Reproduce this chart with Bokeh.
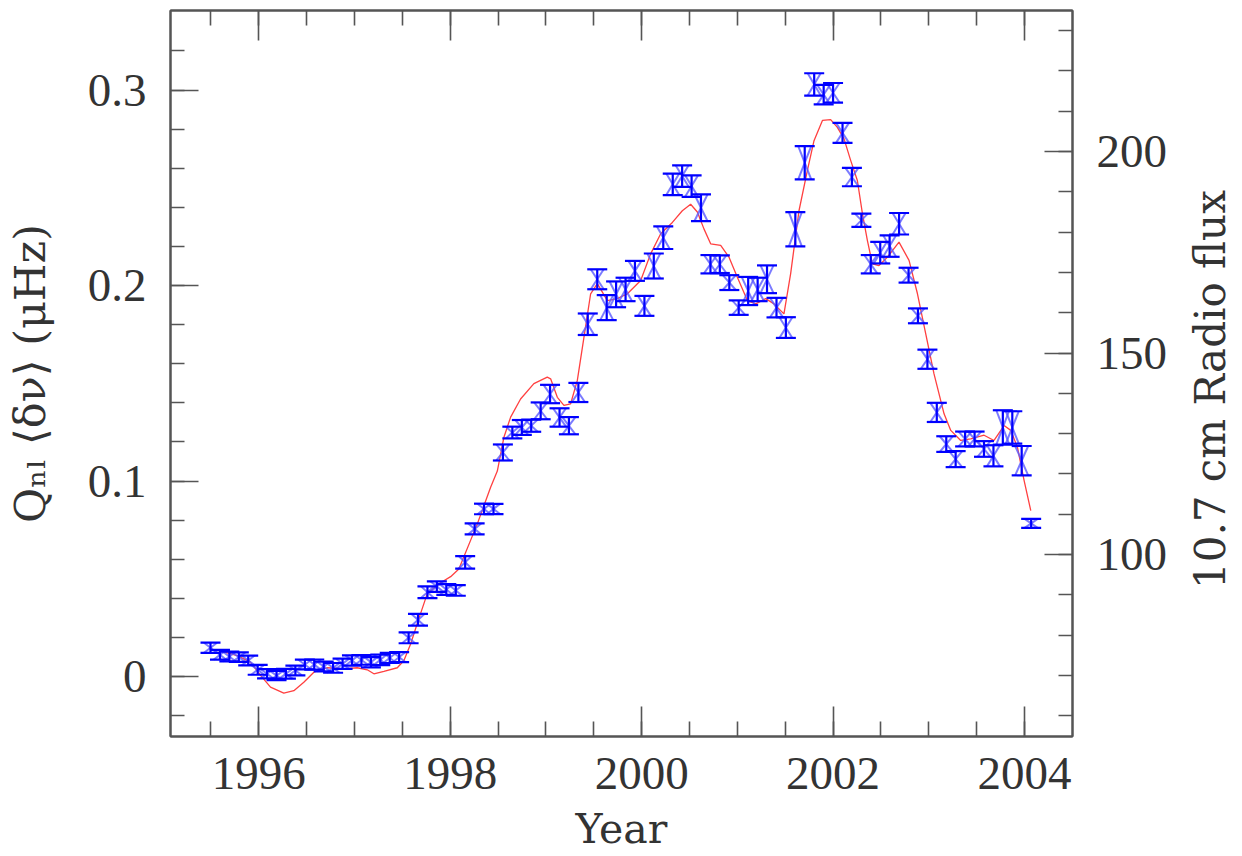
from bokeh.plotting import figure
from bokeh.layouts import row
from bokeh.models import (Range1d, LinearAxis, FixedTicker, Whisker, TeeHead,
                          ColumnDataSource, CustomJSTickFormatter, Label)
from bokeh.embed import file_html
from bokeh.resources import INLINE

# ---------------- data ----------------
years = [1995.495, 1995.594, 1995.692, 1995.791, 1995.889, 1995.988, 1996.086, 1996.185, 1996.283, 1996.382,
         1996.481, 1996.579, 1996.678, 1996.776, 1996.875, 1996.973, 1997.072, 1997.171, 1997.269, 1997.368,
         1997.466, 1997.565, 1997.663, 1997.762, 1997.860, 1997.959, 1998.058, 1998.156, 1998.255, 1998.353,
         1998.452, 1998.550, 1998.649, 1998.748, 1998.846, 1998.945, 1999.043, 1999.142, 1999.240, 1999.339,
         1999.437, 1999.536, 1999.635, 1999.733, 1999.832, 1999.930, 2000.029, 2000.127, 2000.226, 2000.325,
         2000.423, 2000.522, 2000.620, 2000.719, 2000.817, 2000.916, 2001.014, 2001.113, 2001.212, 2001.310,
         2001.409, 2001.507, 2001.606, 2001.704, 2001.803, 2001.902, 2002.000, 2002.099, 2002.197, 2002.296,
         2002.394, 2002.493, 2002.591, 2002.690, 2002.789, 2002.887, 2002.986, 2003.084, 2003.183, 2003.281,
         2003.380, 2003.479, 2003.577, 2003.676, 2003.774, 2003.873, 2003.971, 2004.070]

q_nl = [0.0147, 0.0111, 0.0102, 0.0099, 0.0082, 0.0034, 0.0014, 0.0005, 0.0014, 0.0031,
        0.0061, 0.0061, 0.0051, 0.0044, 0.0065, 0.0082, 0.0085, 0.0073, 0.0085, 0.0095,
        0.0099, 0.0198, 0.0290, 0.0431, 0.0460, 0.0445, 0.0440, 0.0584, 0.0755, 0.0857,
        0.0857, 0.1146, 0.1248, 0.1274, 0.1283, 0.1359, 0.1445, 0.1325, 0.1283, 0.1453,
        0.1802, 0.2032, 0.1887, 0.1955, 0.1980, 0.2075, 0.1896, 0.2100, 0.2245, 0.2518,
        0.2560, 0.2509, 0.2398, 0.2109, 0.2109, 0.2015, 0.1887, 0.1972, 0.1980, 0.2032,
        0.1887, 0.1785, 0.2288, 0.2628, 0.3029, 0.2977, 0.2986, 0.2781, 0.2555, 0.2334,
        0.2109, 0.2168, 0.2202, 0.2316, 0.2053, 0.1845, 0.1623, 0.1351, 0.1189, 0.1112,
        0.1215, 0.1215, 0.1164, 0.1129, 0.1274, 0.1274, 0.1104, 0.0783]

q_err = [0.0026, 0.0025, 0.0025, 0.0024, 0.0025, 0.0025, 0.0024, 0.0024, 0.0025, 0.0025,
         0.0025, 0.0026, 0.0025, 0.0025, 0.0026, 0.0026, 0.0025, 0.0026, 0.0027, 0.0026,
         0.0026, 0.0028, 0.0030, 0.0030, 0.0027, 0.0027, 0.0027, 0.0032, 0.0028, 0.0027,
         0.0026, 0.0041, 0.0030, 0.0038, 0.0031, 0.0043, 0.0047, 0.0047, 0.0044, 0.0049,
         0.0055, 0.0051, 0.0064, 0.0066, 0.0060, 0.0051, 0.0051, 0.0064, 0.0058, 0.0055,
         0.0055, 0.0055, 0.0068, 0.0047, 0.0045, 0.0038, 0.0037, 0.0072, 0.0060, 0.0071,
         0.0050, 0.0053, 0.0088, 0.0085, 0.0057, 0.0050, 0.0050, 0.0051, 0.0047, 0.0034,
         0.0047, 0.0055, 0.0055, 0.0055, 0.0038, 0.0038, 0.0049, 0.0049, 0.0040, 0.0041,
         0.0038, 0.0038, 0.0040, 0.0054, 0.0088, 0.0083, 0.0075, 0.0023]

flux_year = [1995.565, 1995.774, 1995.913, 1996.018, 1996.122, 1996.261, 1996.366, 1996.470, 1996.575, 1996.715,
             1996.888, 1997.028, 1997.133, 1997.202, 1997.307, 1997.447, 1997.516, 1997.586, 1997.672, 1997.760,
             1997.899, 1998.004, 1998.090, 1998.283, 1998.422, 1998.492, 1998.561, 1998.631, 1998.735, 1998.874,
             1999.014, 1999.049, 1999.119, 1999.188, 1999.258, 1999.328, 1999.397, 1999.467, 1999.537, 1999.642,
             1999.746, 1999.851, 1999.990, 2000.094, 2000.199, 2000.321, 2000.425, 2000.512, 2000.582, 2000.651,
             2000.721, 2000.826, 2000.912, 2001.000, 2001.105, 2001.192, 2001.296, 2001.383, 2001.487, 2001.557,
             2001.644, 2001.732, 2001.801, 2001.889, 2001.975, 2002.045, 2002.114, 2002.184, 2002.254, 2002.307,
             2002.359, 2002.411, 2002.480, 2002.568, 2002.689, 2002.794, 2002.882, 2002.968, 2003.055, 2003.160,
             2003.230, 2003.334, 2003.439, 2003.578, 2003.682, 2003.787, 2003.857, 2003.927, 2003.996, 2004.066]

flux = [76.3, 74.9, 73.3, 70.0, 67.1, 65.6, 66.2, 68.3, 70.8, 71.9,
        71.6, 71.9, 71.4, 70.4, 71.0, 71.9, 73.7, 77.8, 84.1, 90.3,
        93.0, 94.5, 96.4, 107.6, 116.7, 120.7, 129.1, 134.1, 138.6, 142.4,
        144.0, 143.6, 139.0, 137.0, 137.4, 143.2, 153.9, 164.7, 167.2, 163.0,
        163.5, 164.7, 168.0, 174.6, 179.6, 182.4, 185.3, 186.9, 185.0, 180.8,
        177.1, 176.7, 173.8, 168.8, 163.0, 162.2, 163.5, 162.2, 159.7, 169.7,
        185.3, 195.3, 202.7, 207.7, 207.9, 206.0, 203.2, 197.8, 192.8, 184.6,
        177.9, 172.1, 171.7, 173.8, 177.5, 173.0, 164.7, 154.8, 144.8, 134.9,
        130.8, 128.3, 128.7, 129.6, 128.3, 132.0, 130.8, 126.6, 118.4, 110.9]

x_major_ticks = [1996, 1998, 2000, 2002, 2004]
x_minor_ticks = [1995.5, 1996.0, 1996.5, 1997.0, 1997.5, 1998.0, 1998.5, 1999.0, 1999.5,
                 2000.0, 2000.5, 2001.0, 2001.5, 2002.0, 2002.5, 2003.0, 2003.5, 2004.0]
q_major_ticks = [0.0, 0.1, 0.2, 0.3]
q_minor_ticks = [-0.02, 0.0, 0.02, 0.04, 0.06, 0.08, 0.10, 0.12, 0.14, 0.16, 0.18,
                 0.20, 0.22, 0.24, 0.26, 0.28, 0.30, 0.32]
flux_major_ticks = [100, 150, 200]
flux_minor_ticks = [60, 70, 80, 90, 100, 110, 120, 130, 140, 150, 160, 170, 180,
                    190, 200, 210, 220, 230]

x_title = "Year"
q_title = "Q\u2099\u2097 \u27e8\u03b4\u03bd\u27e9 (\u03bcHz)"
flux_title = "10.7 cm Radio flux"

# ---------------- layout constants ----------------
W, H = 1242, 856
STRIP_W = 70                      # narrow panel holding the right-hand title
MAIN_W = W - STRIP_W
FL, FT, FW, FH = 170, 10, 902, 726
X_RANGE = (1995.077, 2004.502)
Q_RANGE = (-0.0307, 0.3407)
F_RANGE = (54.84, 234.99)

AX_COLOR = "#555555"
TXT_COLOR = "#333333"
TICK_FONT = "Liberation Serif"
TITLE_FONT = "DejaVu Serif"

p = figure(width=MAIN_W, height=H, output_backend="svg", toolbar_location=None,
           x_range=Range1d(*X_RANGE), y_range=Range1d(*Q_RANGE),
           min_border_left=FL, min_border_right=MAIN_W - FL - FW,
           min_border_top=FT, min_border_bottom=H - FT - FH,
           background_fill_color="white", border_fill_color="white")
p.grid.visible = False
p.outline_line_color = AX_COLOR
p.outline_line_width = 2
p.extra_y_ranges = {"flux": Range1d(*F_RANGE)}


def style_axis(ax, major_len, minor_len, standoff):
    ax.axis_line_color = AX_COLOR
    ax.axis_line_width = 2
    ax.major_tick_in = major_len
    ax.major_tick_out = 0
    ax.minor_tick_in = minor_len
    ax.minor_tick_out = 0
    ax.major_tick_line_color = AX_COLOR
    ax.minor_tick_line_color = AX_COLOR
    ax.major_tick_line_width = 1.6
    ax.minor_tick_line_width = 1.6
    ax.major_label_text_font = TICK_FONT
    ax.major_label_text_font_size = "47px"
    ax.major_label_text_color = TXT_COLOR
    ax.major_label_standoff = standoff


def style_title(ax, standoff, size="41px"):
    ax.axis_label_text_font = TITLE_FONT
    ax.axis_label_text_font_size = size
    ax.axis_label_text_font_style = "normal"
    ax.axis_label_text_color = TXT_COLOR
    ax.axis_label_standoff = standoff


xb = p.xaxis[0]
xb.ticker = FixedTicker(ticks=x_major_ticks, minor_ticks=x_minor_ticks)
style_axis(xb, 30, 15, 21)
xb.axis_label = x_title
style_title(xb, 13)

yl = p.yaxis[0]
yl.ticker = FixedTicker(ticks=q_major_ticks, minor_ticks=q_minor_ticks)
yl.formatter = CustomJSTickFormatter(code="return Math.abs(tick) < 1e-9 ? '0' : tick.toFixed(1);")
style_axis(yl, 28, 14, 24)
yl.axis_label = q_title
style_title(yl, 30, "43px")

yr = LinearAxis(y_range_name="flux",
                ticker=FixedTicker(ticks=flux_major_ticks, minor_ticks=flux_minor_ticks))
style_axis(yr, 28, 14, 24)
p.add_layout(yr, "right")

xt = LinearAxis(ticker=FixedTicker(ticks=x_major_ticks, minor_ticks=x_minor_ticks),
                formatter=CustomJSTickFormatter(code="return '';"))
style_axis(xt, 30, 15, 0)
xt.major_label_text_font_size = "0px"
p.add_layout(xt, "above")

# ---------------- glyphs ----------------
p.line(flux_year, flux, y_range_name="flux", line_color="#ff4040", line_width=1.3)

hw = 6.5 * (X_RANGE[1] - X_RANGE[0]) / FW
lo = [q - e for q, e in zip(q_nl, q_err)]
hi = [q + e for q, e in zip(q_nl, q_err)]
src = ColumnDataSource(dict(
    year=years, q=q_nl, lo=lo, hi=hi,
    xl=[y - hw for y in years], xr=[y + hw for y in years]))

p.segment(x0="xl", y0="lo", x1="xr", y1="hi", source=src,
          line_color="#5a5aff", line_alpha=0.8, line_width=2)
p.segment(x0="xl", y0="hi", x1="xr", y1="lo", source=src,
          line_color="#5a5aff", line_alpha=0.8, line_width=2)

wk = Whisker(source=src, base="year", lower="lo", upper="hi",
             line_color="#0000ff", line_width=2.2, level="annotation",
             upper_head=TeeHead(size=20, line_color="#0000ff", line_width=2.2),
             lower_head=TeeHead(size=20, line_color="#0000ff", line_width=2.2))
p.add_layout(wk)

# ---------------- right-hand title strip ----------------
strip = figure(width=STRIP_W, height=H, output_backend="svg", toolbar_location=None,
               x_range=Range1d(0, STRIP_W), y_range=Range1d(0, H),
               x_axis_location=None, y_axis_location=None,
               min_border=0, outline_line_color=None,
               background_fill_color="white", border_fill_color="white")
strip.grid.visible = False
strip.add_layout(Label(x=38, y=409, text=flux_title,
                       angle=90, angle_units="deg",
                       text_align="center", text_baseline="middle",
                       text_font=TITLE_FONT, text_font_size="42px",
                       text_color=TXT_COLOR))

layout = row(p, strip, spacing=0)
open("out.html", "w").write(file_html(layout, INLINE))
